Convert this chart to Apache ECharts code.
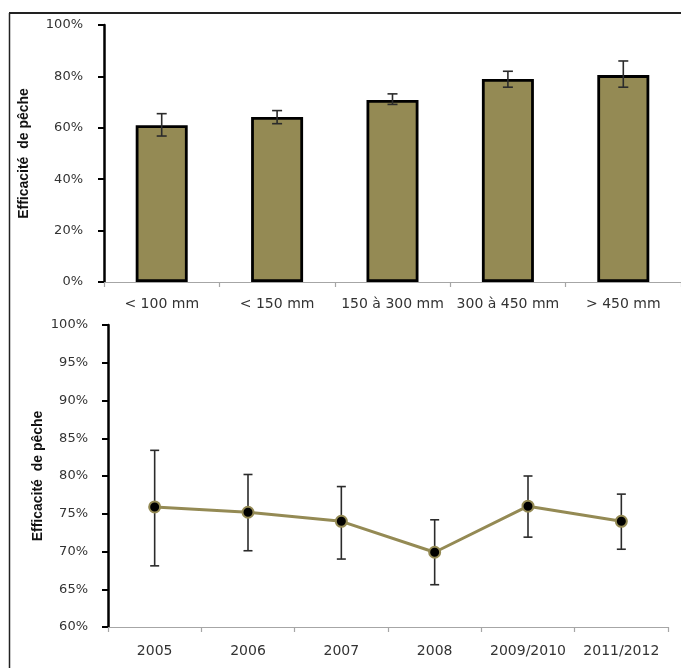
<!DOCTYPE html>
<html>
<head>
<meta charset="utf-8">
<script src="https://cdn.jsdelivr.net/npm/echarts@6/dist/echarts.min.js"></script>
<style>
  html, body { margin: 0; padding: 0; background: #fff; }
  #chart { width: 681px; height: 668px; }
</style>
</head>
<body>
<div id="chart"></div>
<script>
// Fishing efficiency (%) by fish size class
const sizeClasses = ['< 100 mm', '< 150 mm', '150 à 300 mm', '300 à 450 mm', '> 450 mm'];
const efficiencyBySize = [61.0, 64.2, 70.8, 79.0, 80.5];
const sizeLow = [56.8, 61.6, 69.1, 75.8, 75.8];
const sizeHigh = [65.5, 66.7, 73.2, 82.0, 86.0];

// Fishing efficiency (%) by sampling year
const years = ['2005', '2006', '2007', '2008', '2009/2010', '2011/2012'];
const efficiencyByYear = [75.9, 75.2, 74.0, 69.9, 76.0, 74.0];
const yearLow = [68.1, 70.1, 69.0, 65.6, 71.9, 70.3];
const yearHigh = [83.4, 80.2, 78.6, 74.2, 80.0, 77.6];

const yTitle = 'Efficacité  de pêche';

const olive = '#948a54';
const textColor = '#333';
const tickFont = "'DejaVu Sans', Verdana, sans-serif";

function errorBarRenderer(capHalf) {
  return function (params, api) {
    const x = api.value(0);
    const lo = api.coord([x, api.value(1)]);
    const hi = api.coord([x, api.value(2)]);
    const style = { stroke: '#2b2b2b', lineWidth: 1.6 };
    return {
      type: 'group',
      children: [
        { type: 'line', shape: { x1: lo[0], y1: lo[1], x2: hi[0], y2: hi[1] }, style },
        { type: 'line', shape: { x1: hi[0] - capHalf, y1: hi[1], x2: hi[0] + capHalf, y2: hi[1] }, style },
        { type: 'line', shape: { x1: lo[0] - capHalf, y1: lo[1], x2: lo[0] + capHalf, y2: lo[1] }, style }
      ]
    };
  };
}

function valueAxis(gridIndex, min, max, interval, nameGap, margin) {
  return {
    type: 'value',
    gridIndex,
    min, max, interval,
    name: yTitle,
    nameLocation: 'middle',
    nameRotate: 90,
    nameGap,
    nameMoveOverlap: false,
    nameTextStyle: {
      fontFamily: "'Liberation Sans', Arial, sans-serif",
      fontWeight: 'bold',
      fontSize: 14,
      color: '#111'
    },
    axisLine: { show: true, lineStyle: { color: '#000', width: 2.5 } },
    axisTick: { show: true, inside: false, length: 6, lineStyle: { color: '#000', width: 2 } },
    splitLine: { show: false },
    axisLabel: {
      margin,
      fontFamily: tickFont,
      fontSize: 13,
      color: textColor,
      formatter: v => v + '%'
    }
  };
}

function categoryAxis(gridIndex, data, margin) {
  return {
    type: 'category',
    gridIndex,
    data,
    boundaryGap: true,
    axisLine: { show: true, lineStyle: { color: '#a6a6a6', width: 1.2 } },
    axisTick: { show: true, length: 5, alignWithLabel: false, lineStyle: { color: '#a6a6a6', width: 1.2 } },
    axisLabel: {
      interval: 0,
      margin,
      fontFamily: tickFont,
      fontSize: 14,
      color: textColor
    }
  };
}

const chart = echarts.init(document.getElementById('chart'), null, { renderer: 'canvas' });

chart.setOption({
  animation: false,
  backgroundColor: '#fff',
  grid: [
    { left: 104, top: 25, width: 590, height: 257, containLabel: false },
    { left: 108, top: 325, width: 560, height: 302, containLabel: false }
  ],
  xAxis: [
    categoryAxis(0, sizeClasses, 15),
    categoryAxis(1, years, 17)
  ],
  yAxis: [
    valueAxis(0, 0, 100, 20, 73, 21),
    valueAxis(1, 60, 100, 5, 63, 20)
  ],
  graphic: [
    { type: 'line', shape: { x1: 9, y1: 13, x2: 681, y2: 13 }, style: { stroke: '#222', lineWidth: 2 } },
    { type: 'line', shape: { x1: 9.5, y1: 13, x2: 9.5, y2: 668 }, style: { stroke: '#222', lineWidth: 1.5 } }
  ],
  series: [
    {
      type: 'bar',
      xAxisIndex: 0,
      yAxisIndex: 0,
      data: efficiencyBySize,
      barWidth: 52,
      itemStyle: { color: olive, borderColor: '#000', borderWidth: 2.8 },
      z: 2
    },
    {
      type: 'custom',
      xAxisIndex: 0,
      yAxisIndex: 0,
      renderItem: errorBarRenderer(5),
      encode: { x: 0, y: [1, 2] },
      data: sizeClasses.map((_, i) => [i, sizeLow[i], sizeHigh[i]]),
      z: 3
    },
    {
      type: 'custom',
      xAxisIndex: 1,
      yAxisIndex: 1,
      renderItem: errorBarRenderer(4.5),
      encode: { x: 0, y: [1, 2] },
      data: years.map((_, i) => [i, yearLow[i], yearHigh[i]]),
      z: 2
    },
    {
      type: 'line',
      xAxisIndex: 1,
      yAxisIndex: 1,
      data: efficiencyByYear,
      symbol: 'circle',
      symbolSize: 11,
      showAllSymbol: true,
      lineStyle: { color: olive, width: 3 },
      itemStyle: { color: '#000', borderColor: olive, borderWidth: 2 },
      z: 4
    }
  ]
});
</script>
</body>
</html>
